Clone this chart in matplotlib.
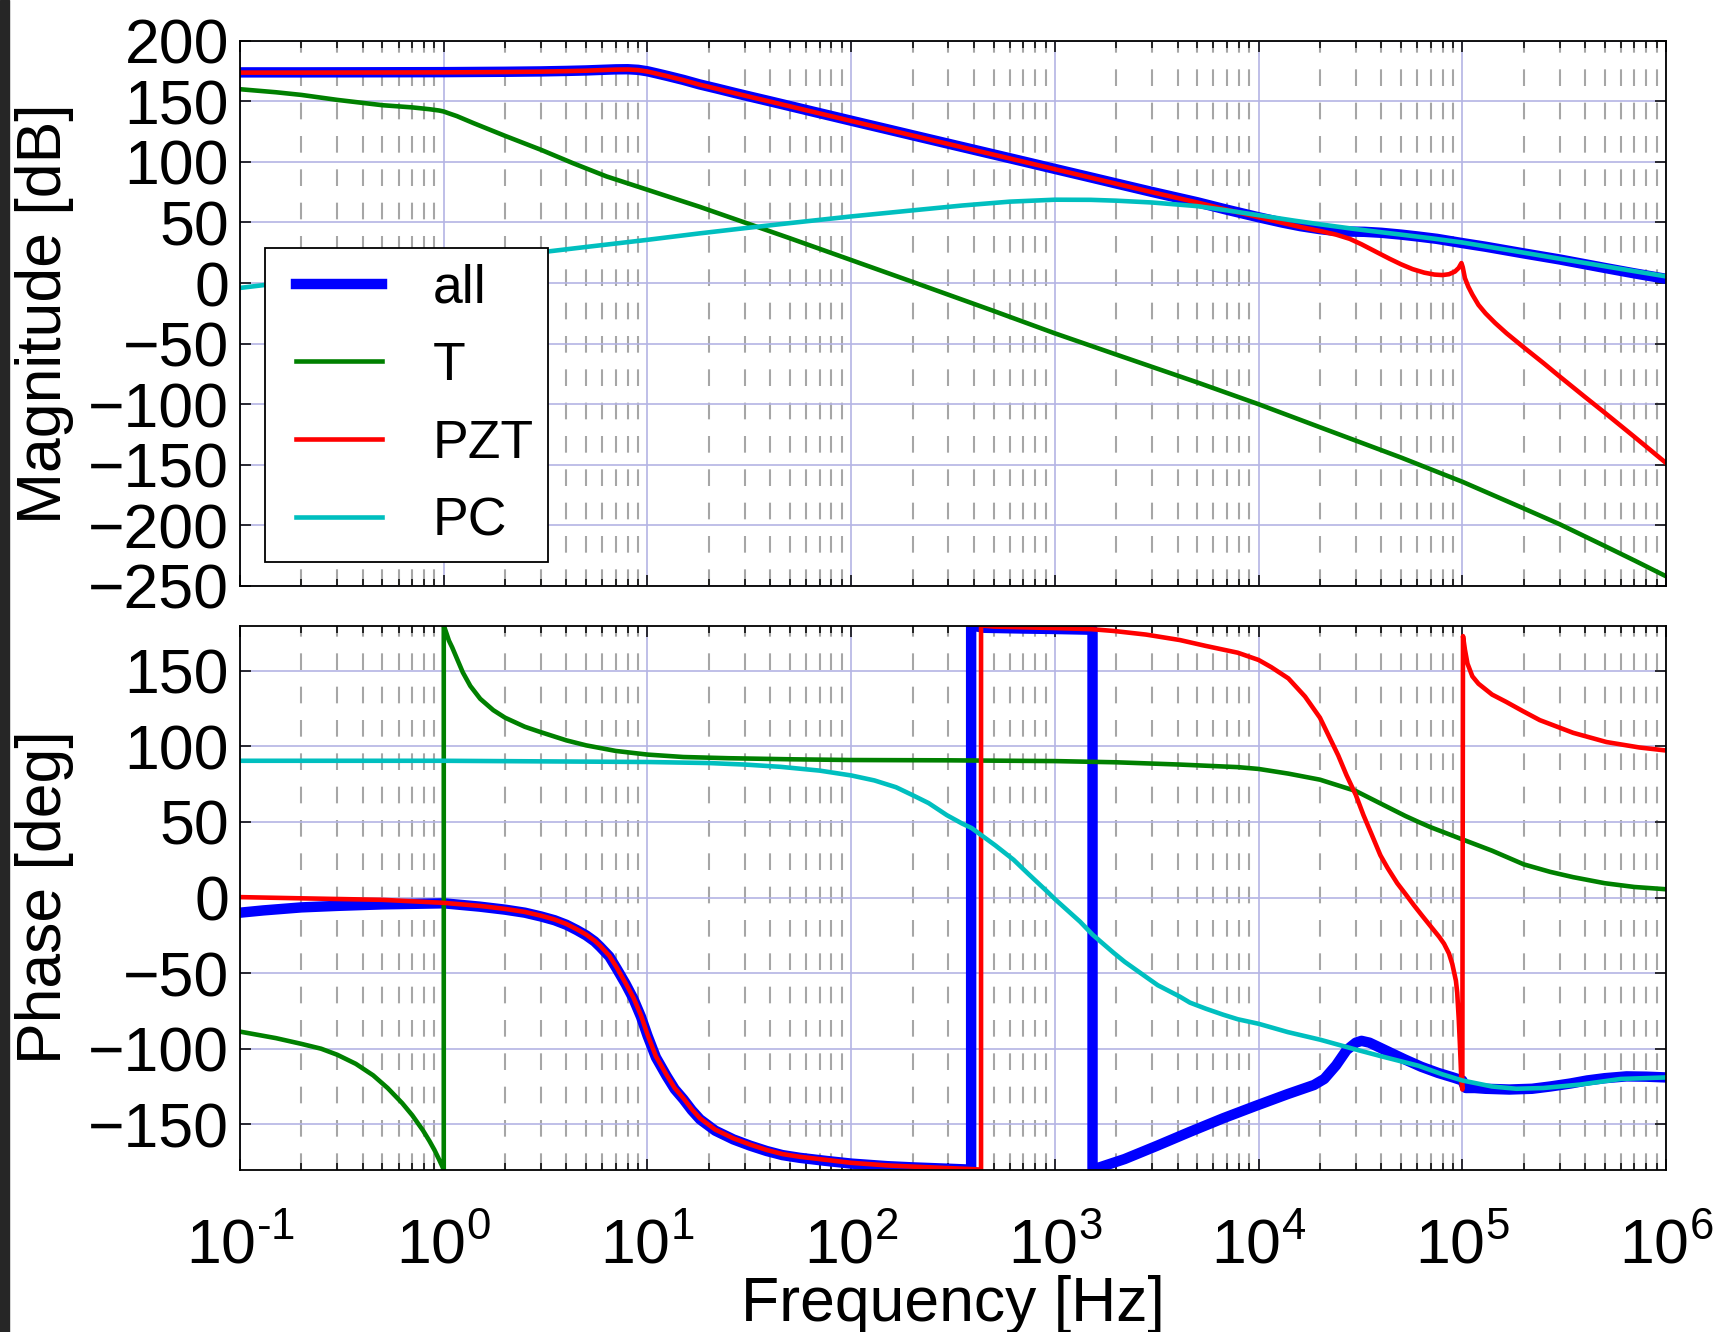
import numpy as np
import matplotlib
matplotlib.use("Agg")
import matplotlib.pyplot as plt
from matplotlib.patches import Rectangle
from matplotlib.ticker import LogLocator, FixedLocator, FuncFormatter
from matplotlib.legend_handler import HandlerLine2D

plt.rcParams['font.family'] = ['Liberation Sans', 'DejaVu Sans']
plt.rcParams['mathtext.fontset'] = 'custom'
plt.rcParams['mathtext.rm'] = 'Liberation Sans'
plt.rcParams['mathtext.it'] = 'Liberation Sans:italic'
plt.rcParams['mathtext.bf'] = 'Liberation Sans:bold'
plt.rcParams['mathtext.default'] = 'regular'

# ---- magnitude [dB] ----
f_mag_pzt = [0.1, 0.2, 0.5, 1, 2, 3, 4, 5, 6, 7, 8, 9, 10, 11, 12.5, 15, 18, 22, 27, 33, 40,
             50, 65, 80, 100, 150, 200, 300, 500, 700, 1e3, 1.5e3, 2e3, 3e3, 5e3, 7e3, 1e4,
             1.3e4, 1.6e4, 2e4, 2.4e4, 2.8e4, 3.2e4, 3.8e4, 4.4e4, 5e4, 5.7e4, 6.5e4,
             7.3e4, 8e4, 8.6e4, 9.2e4, 9.6e4, 9.9e4, 1.005e5, 1.03e5, 1.07e5, 1.12e5,
             1.2e5, 1.3e5, 1.45e5, 1.65e5, 2e5, 2.5e5, 3e5, 4e5, 5e5, 7e5, 1e6]
mag_pzt = [173.7, 173.7, 173.8, 173.9, 174.2, 174.5, 174.9, 175.3, 175.8, 176.2, 176.3,
           175.8, 174.6, 173, 170.8, 167.5, 163.8, 160.3, 156.6, 153.1, 149.8, 145.9,
           141.3, 137.7, 133.8, 126.8, 121.8, 114.8, 106, 100.2, 94, 87, 82, 75, 66.5,
           60.5, 54.3, 49.8, 46.3, 43, 40, 36.5, 32, 25.5, 20, 15.5, 11.5, 8.6, 7, 6.6,
           7.3, 9.5, 12.5, 16.5, 13, 4, -3, -9.5, -18, -25, -33, -41.5, -53, -66, -77,
           -94, -107, -127, -148.5]

f_mag_all = [0.1, 0.2, 0.5, 1, 2, 3, 4, 5, 6, 7, 8, 9, 10, 11, 12.5, 15, 18, 22, 27, 33, 40,
             50, 65, 80, 100, 150, 200, 300, 500, 700, 1e3, 1.5e3, 2e3, 3e3, 5e3, 7e3, 1e4,
             1.3e4, 1.6e4, 2e4, 2.4e4, 2.8e4, 3.3e4, 4e4, 5e4, 6e4, 7.5e4, 1e5, 1.3e5,
             2e5, 3e5, 5e5, 7e5, 1e6]
mag_all = [173.9, 173.9, 174, 174.1, 174.4, 174.7, 175.1, 175.5, 176, 176.4, 176.5, 176,
           174.8, 173.2, 171, 167.7, 164, 160.5, 156.8, 153.3, 150, 146.1, 141.5, 137.9,
           134, 127, 122, 115, 106.2, 100.4, 94.2, 87.2, 82.2, 75.2, 66.7, 60.5, 54.3,
           50, 47, 44.5, 43, 42.5, 42.3, 41.5, 40, 38.5, 36.5, 33, 30, 24.5, 19.5, 12.5,
           8, 3.5]

f_mag_t = [0.1, 0.15, 0.2, 0.3, 0.5, 0.7, 0.85, 0.95, 1, 1.05, 1.16, 1.4, 2, 3, 4.3, 6.3,
           10, 13.4, 18, 30, 50, 100, 200, 500, 1e3, 2e3, 5e3, 1e4, 2e4, 5e4, 1e5, 2e5,
           3e5, 5e5, 7e5, 1e6]
mag_t = [160, 157.5, 155.3, 151.2, 146.8, 145, 143.5, 142.4, 141.6, 140.3, 137.8, 132,
         121.5, 110, 99, 88, 77, 70, 63, 50, 37, 19, 1, -23, -41.5, -59, -82, -100, -119,
         -144, -164, -186, -199, -217, -229, -242]

f_mag_pc = [0.1, 0.2, 0.5, 1, 2, 3.45, 5, 10, 18, 30, 50, 100, 200, 350, 600, 1e3, 1.5e3,
            2e3, 3e3, 5e3, 7e3, 1e4, 1.5e4, 2e4, 3e4, 5e4, 7e4, 1e5, 1.5e5, 2e5, 3e5, 5e5,
            7e5, 1e6]
mag_pc = [-4, 2, 10, 16, 22, 26.6, 29.8, 35.7, 41, 45.3, 49.5, 55, 60, 64, 67.2, 68.8,
          68.7, 68, 66.5, 63.5, 60, 56, 51.5, 48.5, 44.5, 40, 37, 33.5, 28.6, 25.1, 20.1,
          13.9, 9.8, 5.5]

# ---- phase [deg] ----
f_ph_pzt = [0.1, 0.2, 0.5, 1, 1.5, 2, 2.5, 3, 3.5, 4, 4.5, 5, 5.5, 5.85, 6.5, 7.06, 7.8,
            8.53, 9.3, 10, 11, 12.4, 13.6, 15, 16.5, 18.1, 21.5, 26.4, 32, 38.5, 46, 56,
            75, 100, 150, 200, 300, 400, 434, 434, 500, 700, 1e3, 1.5e3, 1.94e3, 2.8e3,
            4.1e3, 5.5e3, 7.9e3, 1e4, 1.155e4, 1.4e4, 1.69e4, 2e4, 2.2e4, 2.46e4, 2.7e4,
            3e4, 3.27e4, 3.6e4, 3.96e4, 4.3e4, 4.79e4, 5.25e4, 5.78e4, 6.35e4, 6.99e4,
            7.7e4, 8.13e4, 8.6e4, 8.93e4, 9.3e4, 9.44e4, 9.6e4, 9.73e4, 9.9e4, 1.0e5,
            1.0076e5, 1.03e5, 1.06e5, 1.12e5, 1.2e5, 1.4e5, 1.64e5, 1.98e5, 2.4e5, 3.5e5,
            5.1e5, 7.4e5, 1e6]
ph_pzt = [0.3, -0.5, -1.5, -3.5, -5.5, -7.5, -9.5, -12, -14.5, -17.5, -21, -24.5, -28.5,
          -31.8, -38.5, -46.2, -56.5, -66.2, -78, -90.6, -105, -117.2, -126, -132.7, -140,
          -146, -153.5, -159.3, -163.5, -167, -169.7, -171.5, -173.5, -175.5, -177.2,
          -178, -179, -179.7, -180, 180, 179.3, 178.8, 178.3, 177.6, 176.4, 174, 170.4,
          166.5, 162, 157.2, 152.4, 145, 133, 119, 107.5, 94, 81, 67.9, 54.6, 41.3,
          28, 19.5, 9.5, 2.5, -5, -12, -19, -26, -30.5, -37, -44, -55, -63,
          -80, -97, -122, -127, 173, 164, 154.8, 146.4, 141.5, 134.3, 129.5, 123.4,
          117.4, 109, 102.9, 99.3, 97.3]

f_ph_all = [0.1, 0.13, 0.2, 0.3, 0.5, 1, 1.5, 2, 2.5, 3, 3.5, 4, 4.5, 5, 5.5, 5.85, 6.5,
            7.06, 7.8, 8.53, 9.3, 10, 11, 12.4, 13.6, 15, 16.5, 18.1, 21.5, 26.4, 32, 38.5,
            46, 56, 75, 100, 150, 200, 300, 388, 388, 450, 700, 1e3, 1.53e3, 1.53e3,
            1.7e3, 2.2e3, 3.2e3, 4.6e3, 6.7e3, 9.6e3, 1.39e4, 1.87e4, 2.1e4, 2.4e4, 2.7e4,
            3e4, 3.2e4, 3.5e4, 3.9e4, 4.5e4, 5.2e4, 6.3e4, 7.6e4, 9e4, 1e5, 1.04e5,
            1.15e5, 1.3e5, 1.7e5, 2.2e5, 2.7e5, 3.4e5, 4.1e5, 5e5, 6.4e5, 8e5, 1e6]
ph_all = [-10, -8.5, -6.5, -5.5, -4.5, -3.8, -6, -8, -10, -12.5, -15, -18, -21.5, -25, -29,
          -32.5, -39, -47, -57, -67, -79, -91.3, -105.7, -118, -126.7, -133.4, -140.7,
          -146.7, -154.2, -160, -164.2, -167.7, -170.4, -172.2, -174.2, -176, -177.7,
          -178.5, -179.4, -180, 180, 178.5, 178, 177.7, 177.2, -180, -178, -173, -164,
          -155, -146, -138, -130, -124, -120, -111, -101, -96, -94.8, -96, -99, -103,
          -107, -112, -116, -119, -121, -126, -126, -126.5, -127, -126.5, -125, -123,
          -121, -119.5, -118.3, -118.5, -119]

f_ph_t = [0.1, 0.15, 0.2, 0.25, 0.3, 0.37, 0.45, 0.53, 0.625, 0.7, 0.79, 0.85, 0.9, 0.95,
          1.0, 1.0, 1.03, 1.06, 1.1, 1.17, 1.24, 1.35, 1.51, 1.75, 2, 2.5, 3, 4, 5, 7, 10,
          15, 25, 50, 100, 300, 1e3, 2e3, 4.1e3, 7.9e3, 1e4, 1.4e4, 2e4, 3e4, 4e4,
          5.25e4, 6.1e4, 7e4, 1e5, 1.4e5, 2e5, 2.7e5, 3.5e5, 5e5, 7e5, 1e6]
ph_t = [-88.7, -93, -96.8, -100, -104, -110, -117.6, -126, -136, -144, -154, -161, -167,
        -173.5, -180, 180, 175, 170, 165.5, 157, 149, 140, 131.5, 124, 119, 113, 109.4,
        104, 100.7, 97, 94.6, 93, 92.2, 91.5, 91, 90.8, 90.3, 89.5, 88, 86.3, 85.1, 82,
        78, 70.5, 62, 54, 50, 46.5, 38.5, 31, 22, 17, 13.5, 9.5, 7, 5.5]

f_ph_pc = [0.1, 1, 10, 20, 30, 45, 70, 100, 130, 166, 202, 240, 295, 350, 390, 510, 627,
           736, 916, 1e3, 1.33e3, 1.53e3, 1.94e3, 2.2e3, 2.8e3, 3.2e3, 4.1e3, 4.6e3, 5.5e3,
           6.7e3, 7.9e3, 1e4, 1.39e4, 2e4, 2.9e4, 4e4, 6.1e4, 8e4, 1e5, 1.4e5, 1.84e5,
           2.5e5, 3.8e5, 6e5, 1e6]
ph_pc = [90.5, 90.5, 89.7, 89, 88, 86.5, 84, 80.8, 77.5, 73, 67.5, 62.5, 54.5, 49, 46, 34.5,
         25, 16, 4, -1, -16, -24.5, -36.5, -42.5, -52.5, -58, -65.5, -69.5, -73.5, -77.5,
         -80.5, -83.5, -89, -94, -100, -105, -111.3, -117, -121, -125, -126.5, -126,
         -123.7, -120, -119]

labels = ['all', 'T', 'PZT', 'PC']
colors = ['#0000ff', '#008000', '#ff0000', '#00bfbf']
widths = [7.5, 3.3, 3.3, 3.3]

mag_series = [(f_mag_all, mag_all), (f_mag_t, mag_t), (f_mag_pzt, mag_pzt), (f_mag_pc, mag_pc)]
ph_series = [(f_ph_all, ph_all), (f_ph_t, ph_t), (f_ph_pzt, ph_pzt), (f_ph_pc, ph_pc)]


def decade_label(x, pos):
    e = int(round(np.log10(x)))
    if e < 0:
        return r'$10^{\text{-}%d}$' % (-e)
    return r'$10^{%d}$' % e


fig = plt.figure(figsize=(17.27, 13.32), dpi=100)
fig.patches.append(Rectangle((0, 0), 9 / 1727, 1, transform=fig.transFigure,
                             color='#262626', zorder=0))

ax1 = fig.add_axes([0.139, 0.5601, 0.8257, 0.4093])
ax2 = fig.add_axes([0.139, 0.1219, 0.8257, 0.4085])


def style(ax):
    ax.set_xscale('log')
    ax.set_xlim(0.1, 1e6)
    ax.xaxis.set_major_locator(LogLocator(base=10, numticks=20))
    ax.xaxis.set_minor_locator(LogLocator(base=10, subs=np.arange(2, 10), numticks=40))
    ax.xaxis.set_major_formatter(FuncFormatter(decade_label))
    ax.set_axisbelow(True)
    ax.grid(True, which='major', color='#b4b4e4', lw=1.2, ls='-')
    ax.xaxis.grid(True, which='minor', color='#a6a6a6', lw=1.5, ls=(0, (8, 8)))
    ax.tick_params(which='both', direction='in', top=True, right=True, width=1.1,
                   labelsize=45, colors='black')
    ax.tick_params(which='major', length=8)
    ax.tick_params(which='minor', length=5)
    ax.tick_params(axis='y', pad=8)
    ax.tick_params(axis='x', pad=34)
    for s in ax.spines.values():
        s.set_linewidth(1.3)


for ax, series in [(ax1, mag_series), (ax2, ph_series)]:
    style(ax)
    for (f, v), lab, c, w in zip(series, labels, colors, widths):
        ax.plot(f, v, color=c, lw=w, label=lab, solid_joinstyle='round')

ax1.set_ylim(-250, 200)
ax1.yaxis.set_major_locator(FixedLocator(np.arange(-250, 201, 50)))
ax1.tick_params(axis='x', labelbottom=False)

ax2.set_ylim(-180, 180)
ax2.yaxis.set_major_locator(FixedLocator(np.arange(-150, 151, 50)))

handles, labs = ax1.get_legend_handles_labels()
leg = ax1.legend(handles, labs, loc=(0.0175, 0.0445), fontsize=38.5, handlelength=1.9,
                 handletextpad=0.95, borderpad=0.28, labelspacing=0.52, fancybox=False,
                 framealpha=1, borderaxespad=0,
                 handler_map={h: HandlerLine2D(xpad=0.3) for h in handles})
leg.get_frame().set_edgecolor('black')
leg.get_frame().set_linewidth(1.3)

fig.text(0.0255, 1 - 313.4 / 1332, 'Magnitude [dB]', rotation=90, ha='center',
         va='center', fontsize=45)
fig.text(0.0255, 1 - 897.6 / 1332, 'Phase [deg]', rotation=90, ha='center',
         va='center', fontsize=45)
fig.text(953 / 1727, 1 - 1305 / 1332, 'Frequency [Hz]', ha='center', va='center',
         fontsize=45)

fig.savefig('out.png', dpi=100)
